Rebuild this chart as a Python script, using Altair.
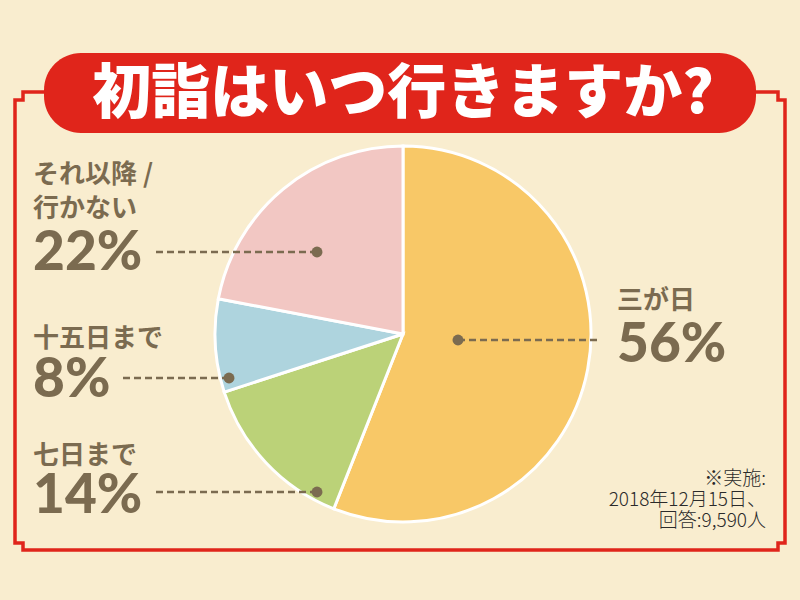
import altair as alt
import pandas as pd

# ---- data ----
categories = ["三が日", "七日まで", "十五日まで", "それ以降 /\n行かない"]
values = [56, 14, 8, 22]
colors = ["#F8C867", "#BBD278", "#AED4DE", "#F2C7C3"]
title_text = "初詣はいつ行きますか?"
note_lines = ["※実施:", "2018年12月15日、", "回答:9,590人"]

# ---- layout (pixels) ----
BG = "#F9EDCF"
RED = "#E0251B"
BROWN = "#7B6B50"
pie_cx, pie_cy, pie_r = 403, 334, 188
dot_x = [458, 317, 229, 317]
dot_y = [340, 492, 378, 252]
line_end_x = [600, 152, 122, 152]
label_x = [617, 33, 33, 33]
label_base_y = [309, 464, 347, 217]
pct_base_y = [362, 513, 397, 270]
frame_x = [44, 23, 23, 15, 15, 23, 23, 778, 778, 785, 785, 778, 778, 755]
frame_y = [92, 92, 100, 100, 543, 543, 550, 550, 543, 543, 100, 100, 92, 92]

JP = "Noto Sans CJK JP"
NUM = "Lato"

one = pd.DataFrame({"a": [0]})

pie_df = pd.DataFrame({"category": categories, "value": values, "order": list(range(len(values)))})

frame = alt.Chart(pd.DataFrame({"x": frame_x, "y": frame_y, "i": list(range(len(frame_x)))})).mark_line(
    color=RED, strokeWidth=3.5, strokeJoin="miter"
).encode(
    x=alt.X("x:Q", scale=None, axis=None),
    y=alt.Y("y:Q", scale=None, axis=None),
    order=alt.Order("i:Q"),
)

banner = alt.Chart(one).mark_rect(color=RED, cornerRadius=37).encode(
    x=alt.value(44), x2=alt.value(756), y=alt.value(53), y2=alt.value(133)
)

title = alt.Chart(one).mark_text(
    text=title_text, font=JP, fontSize=59, fontWeight=900, color="white",
    align="center", baseline="middle"
).encode(x=alt.value(403), y=alt.value(95))

pie = alt.Chart(pie_df).mark_arc(radius=pie_r, stroke="white", strokeWidth=3).encode(
    theta=alt.Theta("value:Q", stack=True),
    order=alt.Order("order:Q"),
    color=alt.Color("category:N", scale=alt.Scale(domain=categories, range=colors), legend=None),
    x=alt.value(pie_cx),
    y=alt.value(pie_cy),
)

ann_df = pd.DataFrame({
    "category": categories,
    "dx": dot_x, "dy": dot_y, "lx": line_end_x,
    "tx": label_x, "py": pct_base_y,
    "pct": [f"{v}%" for v in values],
})

leaders = alt.Chart(ann_df).mark_rule(color=BROWN, strokeWidth=2.5, strokeDash=[7, 4]).encode(
    x=alt.X("dx:Q", scale=None, axis=None),
    x2="lx:Q",
    y=alt.Y("dy:Q", scale=None, axis=None),
)

dots = alt.Chart(ann_df).mark_circle(color=BROWN, size=120, opacity=1).encode(
    x=alt.X("dx:Q", scale=None, axis=None),
    y=alt.Y("dy:Q", scale=None, axis=None),
)

pct_text = alt.Chart(ann_df).mark_text(
    font=NUM, fontSize=55, fontWeight=900, color=BROWN, align="left", baseline="alphabetic"
).encode(
    x=alt.X("tx:Q", scale=None, axis=None),
    y=alt.Y("py:Q", scale=None, axis=None),
    text="pct:N",
)

rows = []
for cat, tx, by in zip(categories, label_x, label_base_y):
    lines = cat.split("\n")
    n = len(lines)
    for k, ln in enumerate(lines):
        rows.append({"t": ln, "x": tx, "y": by - (n - 1 - k) * 34})
lab_df = pd.DataFrame(rows)

cat_text = alt.Chart(lab_df).mark_text(
    font=JP, fontSize=26, fontWeight="bold", color=BROWN, align="left", baseline="alphabetic"
).encode(
    x=alt.X("x:Q", scale=None, axis=None),
    y=alt.Y("y:Q", scale=None, axis=None),
    text="t:N",
)

note_df = pd.DataFrame({"t": note_lines, "y": [485, 506, 527]})
note = alt.Chart(note_df).mark_text(
    font=JP, fontSize=19, fontWeight=300, color="#2A2A2A", align="right", baseline="alphabetic"
).encode(
    x=alt.value(766),
    y=alt.Y("y:Q", scale=None, axis=None),
    text="t:N",
)

chart = alt.layer(frame, banner, title, pie, leaders, dots, pct_text, cat_text, note).properties(
    width=800, height=600, padding=0, background=BG,
    autosize=alt.AutoSizeParams(type="none"),
).configure_view(stroke=None)

chart.save("out.html", embed_options={"renderer": "svg", "actions": False})
